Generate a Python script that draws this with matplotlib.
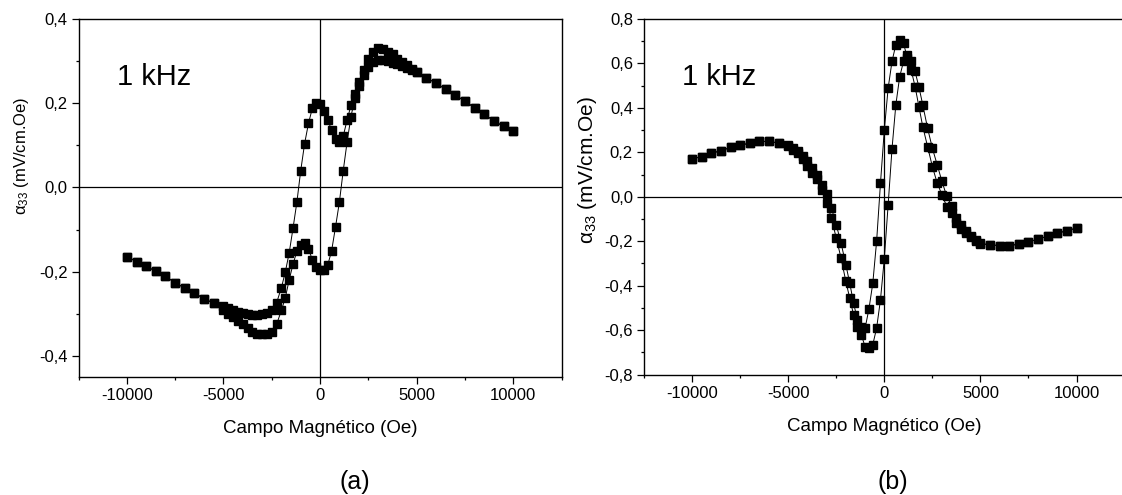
import matplotlib
matplotlib.use('Agg')
import matplotlib.pyplot as plt
from matplotlib.ticker import MultipleLocator, FuncFormatter

plt.rcParams['font.family'] = ['Liberation Sans', 'DejaVu Sans']
plt.rcParams['mathtext.default'] = 'regular'
plt.rcParams['axes.unicode_minus'] = False

# magnetic field grid (Oe)
field = [-10000, -9500, -9000, -8500, -8000, -7500, -7000, -6500, -6000, -5500, -5000,
         -4750, -4500, -4250, -4000, -3750, -3500, -3250, -3000, -2750, -2500, -2250,
         -2000, -1800, -1600, -1400, -1200, -1000, -800, -600, -400, -200, 0,
         200, 400, 600, 800, 1000, 1200, 1400, 1600, 1800, 2000,
         2250, 2500, 2750, 3000, 3250, 3500, 3750, 4000, 4250, 4500, 4750,
         5000, 5500, 6000, 6500, 7000, 7500, 8000, 8500, 9000, 9500, 10000]

# (a) two branches of the loop
a_branch1 = [-0.164, -0.176, -0.187, -0.199, -0.211, -0.226, -0.239, -0.251, -0.264, -0.275, -0.281,
             -0.287, -0.292, -0.296, -0.299, -0.301, -0.302, -0.302, -0.301, -0.298, -0.291, -0.274,
             -0.238, -0.201, -0.156, -0.097, -0.035, 0.040, 0.104, 0.152, 0.188, 0.201, 0.198,
             0.182, 0.160, 0.136, 0.115, 0.108, 0.122, 0.160, 0.195, 0.222, 0.250,
             0.279, 0.305, 0.322, 0.330, 0.329, 0.322, 0.316, 0.306, 0.298, 0.290, 0.282,
             0.274, 0.260, 0.248, 0.233, 0.219, 0.205, 0.189, 0.174, 0.158, 0.145, 0.133]
a_branch2 = [-0.164, -0.176, -0.187, -0.199, -0.211, -0.226, -0.239, -0.251, -0.264, -0.275, -0.290,
             -0.300, -0.308, -0.316, -0.324, -0.334, -0.342, -0.347, -0.349, -0.348, -0.342, -0.325,
             -0.292, -0.262, -0.220, -0.182, -0.152, -0.136, -0.133, -0.145, -0.172, -0.188, -0.196,
             -0.196, -0.184, -0.150, -0.094, -0.035, 0.040, 0.108, 0.168, 0.212, 0.240,
             0.266, 0.285, 0.297, 0.302, 0.302, 0.300, 0.296, 0.292, 0.288, 0.284, 0.279,
             0.275, 0.260, 0.248, 0.233, 0.219, 0.205, 0.189, 0.174, 0.158, 0.145, 0.133]

# (b) two branches of the loop
b_branch1 = [0.170, 0.181, 0.196, 0.207, 0.222, 0.231, 0.242, 0.249, 0.249, 0.242, 0.232,
             0.219, 0.204, 0.184, 0.160, 0.130, 0.100, 0.054, 0.014, -0.051, -0.126, -0.208,
             -0.306, -0.388, -0.478, -0.553, -0.585, -0.592, -0.505, -0.390, -0.200, 0.060, 0.300,
             0.489, 0.609, 0.684, 0.706, 0.690, 0.625, 0.570, 0.496, 0.406, 0.316,
             0.226, 0.136, 0.062, 0.009, -0.044, -0.074, -0.120, -0.145, -0.165, -0.182, -0.198,
             -0.212, -0.216, -0.220, -0.220, -0.213, -0.204, -0.190, -0.178, -0.164, -0.153, -0.141]
b_branch2 = [0.170, 0.181, 0.196, 0.207, 0.222, 0.231, 0.242, 0.249, 0.249, 0.242, 0.228,
             0.212, 0.195, 0.170, 0.140, 0.108, 0.078, 0.031, -0.028, -0.096, -0.186, -0.276,
             -0.381, -0.456, -0.531, -0.584, -0.621, -0.674, -0.681, -0.666, -0.591, -0.464, -0.279,
             -0.036, 0.215, 0.414, 0.540, 0.609, 0.639, 0.612, 0.564, 0.494, 0.414,
             0.309, 0.219, 0.144, 0.069, 0.002, -0.040, -0.095, -0.128, -0.155, -0.175, -0.193,
             -0.210, -0.216, -0.220, -0.220, -0.213, -0.204, -0.190, -0.178, -0.164, -0.153, -0.141]

xlabel = 'Campo Magnético (Oe)'
ylabel = 'α$_{33}$ (mV/cm.Oe)'


def comma_fmt(v, pos):
    s = f"{v:.1f}".replace('.', ',')
    if s == '-0,0':
        s = '0,0'
    return s


def setup_axes(ax, ylim, ylab_size, ylab_xy, xlab_y):
    ax.set_xlim(-12500, 12500)
    ax.set_ylim(*ylim)
    ax.axhline(0, color='k', lw=0.9, zorder=1)
    ax.axvline(0, color='k', lw=0.9, zorder=1)
    ax.xaxis.set_major_locator(MultipleLocator(5000))
    ax.xaxis.set_minor_locator(MultipleLocator(2500))
    ax.yaxis.set_major_locator(MultipleLocator(0.2))
    ax.yaxis.set_minor_locator(MultipleLocator(0.1))
    ax.xaxis.set_major_formatter(FuncFormatter(lambda v, p: f"{v:.0f}"))
    ax.yaxis.set_major_formatter(FuncFormatter(comma_fmt))
    ax.tick_params(which='major', direction='out', length=5, width=0.9, labelsize=12, pad=3)
    ax.tick_params(which='minor', direction='out', length=2.5, width=0.9)
    ax.tick_params(top=False, right=False, which='both')
    for sp in ax.spines.values():
        sp.set_linewidth(1.0)
    ax.set_xlabel(xlabel, fontsize=13.5, va='center')
    ax.xaxis.set_label_coords(0.5, xlab_y)
    ax.set_ylabel(ylabel, fontsize=ylab_size, va='center', ha='center')
    ax.yaxis.set_label_coords(*ylab_xy)
    ax.text(0.079, 0.815, '1 kHz', transform=ax.transAxes, fontsize=21, va='baseline')


fig = plt.figure(figsize=(11.22, 4.95), dpi=100)
ax1 = fig.add_axes([0.070, 0.2384, 0.4305, 0.7232])
ax2 = fig.add_axes([0.574, 0.2434, 0.4283, 0.7182])

for ax, b1, b2 in [(ax1, a_branch1, a_branch2), (ax2, b_branch1, b_branch2)]:
    ax.plot(field, b1, color='k', lw=0.7, marker='s', ms=5.8, zorder=3)
    ax.plot(field, b2, color='k', lw=0.7, marker='s', ms=5.8, zorder=3)

setup_axes(ax1, (-0.45, 0.4), 12, (-0.118, 0.617), -0.145)
setup_axes(ax2, (-0.8, 0.8), 15, (-0.1186, 0.575), -0.145)

fig.text(0.3164, 0.026, '(a)', fontsize=18, ha='center', va='center')
fig.text(0.7959, 0.026, '(b)', fontsize=18, ha='center', va='center')

fig.savefig('out.png', dpi=100)
